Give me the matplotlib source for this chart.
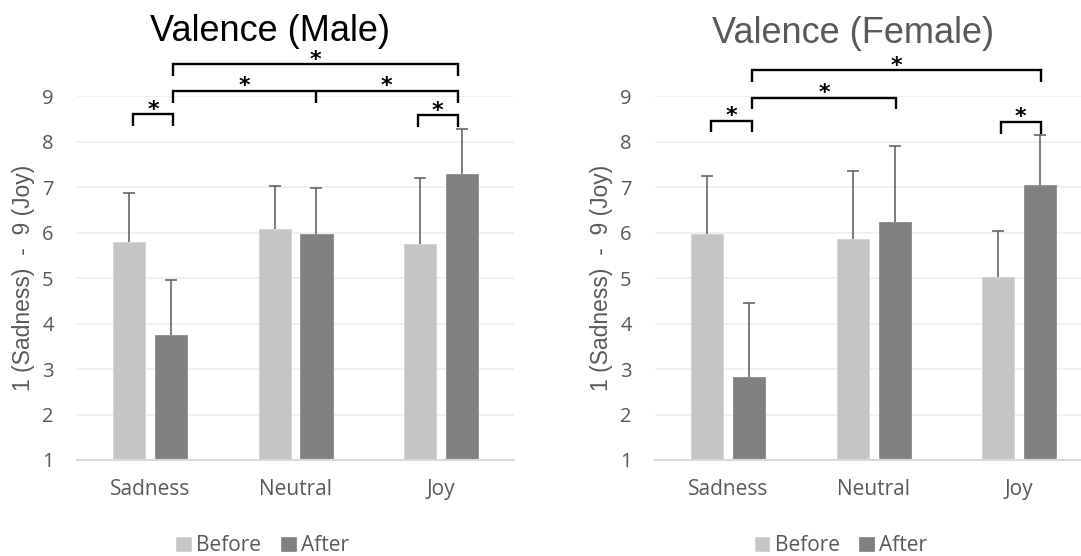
import matplotlib
matplotlib.use("Agg")
import matplotlib.pyplot as plt
import numpy as np

# Datos
categories = ['Sadness', 'Neutral', 'Joy']
series_names = ['Before', 'After']

male_before = [5.80, 6.07, 5.75]
male_before_err = [1.07, 0.96, 1.45]
male_after = [3.76, 5.98, 7.29]
male_after_err = [1.20, 1.01, 0.98]

female_before = [5.98, 5.87, 5.03]
female_before_err = [1.26, 1.49, 1.00]
female_after = [2.82, 6.24, 7.04]
female_after_err = [1.63, 1.66, 1.10]

y_ticks = [1, 2, 3, 4, 5, 6, 7, 8, 9]

# Comparaciones significativas: (x inicio, x fin, altura, x de marca central o None)
male_brackets = [(-0.115, 0.156, 8.60, None),
                 (0.156, 2.114, 9.11, 1.141),
                 (0.156, 2.114, 9.70, None),
                 (1.840, 2.114, 8.58, None)]
female_brackets = [(-0.117, 0.167, 8.46, None),
                   (0.167, 1.153, 8.96, None),
                   (0.167, 2.151, 9.57, None),
                   (1.874, 2.151, 8.43, None)]

COLOR_BEFORE = '#C5C5C5'
COLOR_AFTER = '#808080'
TEXT_GRAY = '#595959'
TICK_FONT = 'Open Sans'
LABEL_FONT = 'Liberation Sans'


# Dibuja un corchete con su asterisco encima
def draw_bracket(ax, x1, x2, y, mid=None, drop=0.25):
    kw = dict(color='black', lw=1.7, clip_on=False, solid_capstyle='butt',
              solid_joinstyle='miter')
    ax.plot([x1, x1, x2, x2], [y - drop, y, y, y - drop], **kw)
    if mid is None:
        star_x = [(x1 + x2) / 2]
    else:
        ax.plot([mid, mid], [y, y - drop], **kw)
        star_x = [(x1 + mid) / 2, (mid + x2) / 2]
    for sx in star_x:
        ax.annotate('*', xy=(sx, y), xytext=(0, 3.5), textcoords='offset points',
                    ha='center', va='center', fontsize=16, fontweight='bold',
                    family='DejaVu Sans', annotation_clip=False)


# Dibuja un panel de barras con errores
def draw_panel(ax, before, before_err, after, after_err, brackets, legend_x):
    x = np.arange(len(categories))
    width = 0.22
    offset = 0.144
    err_kw = dict(ecolor=TEXT_GRAY, elinewidth=1.1, capsize=4.3, capthick=1.1)
    b1 = ax.bar(x - offset, before, width, bottom=0, color=COLOR_BEFORE,
                edgecolor='#D2D2D2', linewidth=0.6, label=series_names[0],
                yerr=[np.zeros(len(before)), before_err], error_kw=err_kw, zorder=2)
    b2 = ax.bar(x + offset, after, width, bottom=0, color=COLOR_AFTER,
                edgecolor='#8C8C8C', linewidth=0.6, label=series_names[1],
                yerr=[np.zeros(len(after)), after_err], error_kw=err_kw, zorder=2)
    # solo la barra de error superior lleva tope
    for bars in (b1, b2):
        caps = bars.errorbar.lines[1]
        caps[0].set_visible(False)

    ax.set_xlim(-0.5, len(categories) - 0.5)
    ax.set_ylim(1, 9)
    ax.set_yticks(y_ticks)
    ax.set_xticks(x)
    ax.set_xticklabels(categories)
    ax.yaxis.grid(True, color='#EDEDED', lw=1.2, zorder=0)
    ax.set_axisbelow(True)
    for side in ['top', 'right', 'left']:
        ax.spines[side].set_visible(False)
    ax.spines['bottom'].set_color('#D9D9D9')
    ax.spines['bottom'].set_linewidth(1.5)
    ax.tick_params(axis='both', length=0, labelcolor=TEXT_GRAY)
    ax.tick_params(axis='y', pad=17, labelsize=14.5)
    ax.tick_params(axis='x', pad=14, labelsize=15)
    for lab in ax.get_xticklabels() + ax.get_yticklabels():
        lab.set_family(TICK_FONT)
    ax.set_ylabel('1 (Sadness)  -  9 (Joy)', family=LABEL_FONT, fontsize=16.5,
                  color=TEXT_GRAY, labelpad=5)

    for x1, x2, y, mid in brackets:
        draw_bracket(ax, x1, x2, y, mid)

    ax.legend(loc='upper center', bbox_to_anchor=(legend_x, 0.056),
              bbox_transform=ax.figure.transFigure, ncol=2, frameon=False,
              borderpad=0, handlelength=0.7, handleheight=0.7,
              handletextpad=0.25, columnspacing=0.95,
              prop={'family': TICK_FONT, 'size': 15}, labelcolor=TEXT_GRAY)


fig = plt.figure(figsize=(10.81, 5.56), dpi=100)
ax1 = fig.add_axes([0.0715, 0.1727, 0.4038, 0.6541])
ax2 = fig.add_axes([0.6062, 0.1727, 0.4038, 0.6541])

draw_panel(ax1, male_before, male_before_err, male_after, male_after_err,
           male_brackets, 0.243)
draw_panel(ax2, female_before, female_before_err, female_after, female_after_err,
           female_brackets, 0.778)

fig.text(0.2498, 0.9268, 'Valence (Male)', ha='center', va='baseline',
         family=LABEL_FONT, fontsize=26, color='black')
fig.text(0.789, 0.9227, 'Valence (Female)', ha='center', va='baseline',
         family=LABEL_FONT, fontsize=26, color=TEXT_GRAY)

fig.savefig('out.png', dpi=100)
